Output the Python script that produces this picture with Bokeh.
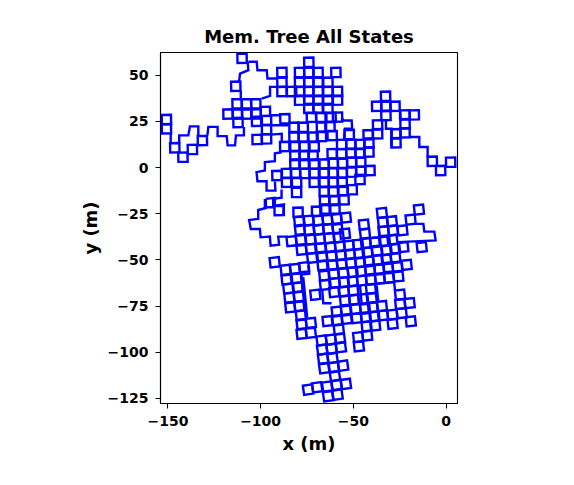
from bokeh.plotting import figure
from bokeh.embed import file_html
from bokeh.resources import INLINE
from bokeh.models import FixedTicker, Range1d

title = "Mem. Tree All States"
x_label = "x (m)"
y_label = "y (m)"
x_ticks = [-150, -100, -50, 0]
x_tick_labels = ["\u2212150", "\u2212100", "\u221250", "0"]
y_ticks = [-125, -100, -75, -50, -25, 0, 25, 50]
y_tick_labels = ["\u2212125", "\u2212100", "\u221275", "\u221250", "\u221225", "0", "25", "50"]

# upper cells (nearly axis aligned), as rows of x with a y for each
upper_x = [-110,-113.4,
 -74,
 -88.5,-79,-74,-69,-59.4,
 -88.5,-79,-74,-69,-63.7,
 -88.5,-83.3,-79,-74,-69,-63.7,-58.5,
 -79,-74,-69,-63.7,-58.5,
 -74,-69,-63.7,
 -72.6,-67.5,-62,-58.5,
 -32.6,-37.4,-32.4,-27.5,-32.4,-22.1,-17.1,-36.9,-22.1,-27,-22.1,-36.9,-42,-27,
 -7.4,-2.9,2.5,
 -150.8,-150.8,-146.3,-141.9,-136.8,-131.4,
 -112.7,-107.6,-102.6,
 -117.6,-112.5,-107.5,-102.4,-97.4,
 -112.2,-102.2,-96.8,-86.9,
 -96.8,-101.9,-96.8,
 -82,-77,-67.2,-62.6,
 -82,-77,-71.7,-67.2,-61.4,-52.2,
 -87,-81.5,-76.5,-71.1,-56.3,-51.3,-46.4,-41.6,
 -81.5,-76.5,-71.7,-61.4,-56.3,-51.3,-46.4,-41.6,
 -81.5,-76.5,-71.1,-65.7,-60.8,-55.8,-50.9,-46,
 -91.2,-86,-81.2,-76.1,-71.1,-65.7,-60.8,-56,-50.9,-46,-41,
 -86,-80.6,-71.1,-65.7,-60.8,-56,-46.4,
 -80.6,-65.7,-60.8,-55.5,-50.6,
 -65.5,-60.3,-55,
 -65.3,-59.9,-79.8,-69.8,-90]
upper_y = [59.2,44,
 57,
 51.5,51.5,51.5,51.5,51.5,
 46.2,46.2,46.2,46.2,46.2,
 41.2,41.2,41.2,41.2,41.2,41.2,41.2,
 36.5,36.5,36.5,36.5,36.5,
 32,32,32,
 27.2,27.2,27.2,27.3,
 38.6,33.2,33.2,33.2,28.2,28.5,28.5,23.1,23.7,18.3,18.8,18.3,17.7,13.4,
 3.4,-1.6,2.9,
 26,21,10.7,5.6,9.8,14.6,
 34.5,34.5,34.5,
 29,29,29,29,30.4,
 24.4,25,25.5,26.4,
 20.6,15.2,15.5,
 21.8,21.8,21.9,22.2,
 16.5,16.5,16.5,16.8,17.3,17.9,
 11.4,11.4,11.4,11.4,12.5,12.5,12.5,13.3,
 6.5,6.5,6.5,7.5,7.5,7.8,7.8,8.4,
 1.9,1.9,1.9,1.9,2.3,2.3,2.9,2.9,
 -4.3,-3.2,-3.2,-3.2,-3.2,-2.9,-2.9,-2.9,-2.5,-2,-1.6,
 -8,-8,-8,-8,-8,-8,-6.5,
 -13.5,-13,-13,-12.5,-12,
 -17.9,-17.9,-17.5,
 -22.4,-22.4,-24.2,-23.7,-23.3]

# lower cells (tilted about 6 degrees)
lower_x = [-79.2,-74,-69,-63.9,-59,-54,
 -78.8,-73.8,-68.6,-63.6,-58.5,-54.5,
 -83.3,-78.3,-73.1,-68,-63,-57.8,
 -77.9,-72.9,-67.5,-62.3,-57.2,-52.4,-47.4,-43.2,
 -72.2,-66.8,-61.7,-56.7,-51.8,-46.8,-42.4,-37.3,-32,-27.5,-23,
 -92.4,-86.5,-81.5,-76.5,-66.6,-61.1,-56.3,-51.3,-46.3,-41.6,-36.7,-32.1,-27.3,-21.2,
 -65.7,-60.5,-55.4,-50.3,-45.9,-41,-36,-31.2,-26.3,
 -65.3,-59.9,-55,-50.3,-45.4,-40.6,-35.6,-30.8,-25.7,
 -86,-80.6,-85.1,-79.8,-84.5,-79.4,-84,-79.1,-78.3,-77.9,-72.9,-77.9,-72.9,-70.5,
 -60.3,-55,-50,-40.5,
 -54.5,-49.6,-44.7,-40.1,-24.8,
 -59,-54,-48.7,-43.7,-39.4,-34.6,-24.7,-19.6,
 -63.9,-58.7,-53.5,-48.2,-43.2,-38.6,-34,-28.9,-23.9,
 -19,-28.8,-57.8,-42.8,-38.2,-47.4,-42.5,-47,
 -34.6,-14.6,-19.1,-44.3,-34,-29.2,-28.6,-23.5,-43.7,-33.5,-28.9,-32.9,-38.3,-13.1]
lower_y = [-29.1,-28.7,-28.7,-28.3,-27.8,-27.1,
 -33.7,-33.7,-33.6,-33.2,-33.2,-35.8,
 -39.9,-39.2,-39,-38.6,-38.3,-37.8,
 -44.6,-44,-43.7,-43.2,-42.8,-42.3,-41.7,-41,
 -48.9,-48.2,-47.9,-47.5,-47,-46.6,-45.9,-45,-44.7,-43.9,-43.1,
 -51.3,-55.4,-54.9,-54,-53,-52.8,-52.3,-51.7,-51.3,-50.9,-50.2,-49.7,-49.1,-52.7,
 -58.5,-57.6,-57,-56.7,-56.2,-55.3,-54.9,-54,-53.6,
 -63.5,-62.5,-62.1,-61.7,-61.2,-60.8,-60.3,-59.7,-59,
 -60.7,-60,-65.5,-64.8,-70.5,-69.9,-75.7,-75.2,-80,-84.8,-84.1,-90.1,-89.5,-68.9,
 -67.5,-67.2,-66.6,-65.7,
 -72,-71.5,-71.1,-70.6,-68.8,
 -78,-77.5,-76.7,-76.5,-75.7,-75,-74,-73.4,
 -83.2,-82.6,-82,-81.6,-81,-80.6,-80.1,-79.7,-78.9,
 -83.3,-84.7,-87.8,-86.1,-85.6,-91.9,-91,-96.8,
 -24.6,-22.8,-28.2,-30.9,-29.6,-29.1,-34,-34,-35.8,-34.5,-39.2,-40,-40.5,-43.1]

# bottom cells (tilted about 8 degrees)
bottom_x = [-67.1,-62.1,-57.2,-66.8,-61.7,-56.7,-66.3,-61.2,-65.7,-60.5,-55.5,-59.9,-74.4,-69.5,-64.1,-59,-54,-63.6,-58.5]
bottom_y = [-93.7,-93.2,-92.5,-98.6,-98.2,-97.3,-103.6,-103.1,-108.7,-108.2,-107.3,-113,-120.3,-119,-118.6,-117.7,-117.2,-123.9,-123]

# open stretches of the tree between the cells
path_x = [
 [-148.5,-148.5],
 [-143.9,-143.9,-139,-138.1,-133.6,-133.6],
 [-128.7,-128.2,-123.2,-123.2,-118.3,-117.8,-113.8,-113.3,-109,-109],
 [-106.6,-102.1,-101.7,-96.7,-96.3,-91.3],
 [-107,-106.6,-111.1,-111.6],
 [-110.7,-110.7],
 [-99.4,-94.9,-94.9,-91.3],
 [-94.9,-89.1],
 [-94,-85],
 [-94.5,-88.6,-88.6],
 [-88.6,-92.3,-92.3,-97.7,-97.7,-102.2,-101.7,-96.8,-96.8,-92,-92.3],
 [-88.7,-88.7,-93.2,-93.2,-97.7,-97.7],
 [-97.2,-97.2,-101.3,-101.3,-106.2,-105.3,-100.4,-100,-95,-94.6,-90,-90.5,-85.1],
 [-97.2,-92.3,-92.3,-87.4,-87.8],
 [-56.3,-55.4,-50.9,-50.6,-54.5,-55],
 [-19.4,-14.4,-14.4,-9.9,-9.9],
 [-32.4,-32.4,-29.3,-29.3],
 [-24.8,-24.8],
 [-74.3,-73.8,-77.9,-77.4],
 [-77,-74.9],
 [-66.8,-66.2,-61.7],
 [-36.5,-35.5],
 [-40,-36],
 [-16.7,-12.2,-11.7,-6.3,-5.6,-26],
 [-37.4,-28,-27.5],
 [-37.4,-36.5],
 [-46.4,-45.5],
]
path_y = [
 [18.3,12.9],
 [12.9,17.4,17.4,22.3,22.3,17.4],
 [17.4,22,22,17,17,12,12,17.4,17.4,22],
 [57.3,57.3,52.7,52.7,48.2,48.2],
 [57.3,52.7,50.9,46.8],
 [41.9,37.3],
 [37.3,38.8,43.7,43.7],
 [28.3,28.3],
 [22.9,22.9],
 [17.8,18.3,13.8],
 [8.3,7.7,3.4,2.9,-1.6,-2.5,-7.4,-7.4,-12.5,-12.5,-7.6],
 [-11.9,-16.4,-17,-21.5,-21.5,-17],
 [-17,-21.9,-23,-27.8,-28.4,-33.3,-33.3,-37.8,-37.4,-42.3,-41.8,-37.4,-37.4],
 [-17,-16.4,-20.6,-20,-26],
 [27.2,25.5,25.5,21,21,15.5],
 [16.5,16.5,11.1,11.1,5.7],
 [25.6,21,21,11.1],
 [31,26],
 [-53,-57.5,-58,-67.4],
 [-59.4,-81],
 [-65.7,-73.5,-73.5],
 [-31.5,-43],
 [-38,-38],
 [-30.5,-30.5,-34.7,-34.7,-39.5,-40.4],
 [-62.9,-62,-66.5],
 [-63.8,-72.8],
 [-63.8,-73.7],
]

BLUE = "#0000ff"
LW = 2.4

p = figure(frame_width=297, frame_height=351, width=558, height=469,
           output_backend="svg", toolbar_location=None,
           x_range=Range1d(-154, 6.2), y_range=Range1d(-127.8, 62.3),
           min_border_left=160, min_border_top=52, min_border_right=101, min_border_bottom=66,
           title=title, x_axis_label=x_label, y_axis_label=y_label)
p.background_fill_color = "white"
p.border_fill_color = "white"
p.grid.visible = False
p.outline_line_color = "black"
p.outline_line_width = 1.1

p.title.align = "center"
p.title.text_font = "DejaVu Sans"
p.title.text_font_style = "bold"
p.title.text_font_size = "18px"
p.title.text_color = "black"
p.title.standoff = 11

for ax, ticks, labels in ((p.xaxis[0], x_ticks, x_tick_labels), (p.yaxis[0], y_ticks, y_tick_labels)):
    ax.ticker = FixedTicker(ticks=ticks)
    ax.major_label_overrides = dict(zip(ticks, labels))
    ax.minor_tick_line_color = None
    ax.major_tick_in = 0
    ax.major_tick_out = 5
    ax.major_tick_line_color = "black"
    ax.major_tick_line_width = 1.1
    ax.axis_line_color = "black"
    ax.axis_line_width = 1.1
    ax.major_label_text_font = "DejaVu Sans"
    ax.major_label_text_font_style = "bold"
    ax.major_label_text_font_size = "14px"
    ax.major_label_text_color = "black"
    ax.major_label_standoff = 7
    ax.axis_label_text_font = "DejaVu Sans"
    ax.axis_label_text_font_style = "bold"
    ax.axis_label_text_font_size = "18px"
    ax.axis_label_text_color = "black"
    ax.axis_label_standoff = 4

p.multi_line(path_x, path_y, line_color=BLUE, line_width=LW, line_join="miter")
for xs, ys, ang in ((upper_x, upper_y, 1), (lower_x, lower_y, 6), (bottom_x, bottom_y, 8)):
    p.rect(xs, ys, width=5, height=5, angle=ang, angle_units="deg",
           fill_color=None, line_color=BLUE, line_width=LW, line_join="miter")

open("out.html", "w").write(file_html(p, INLINE))
